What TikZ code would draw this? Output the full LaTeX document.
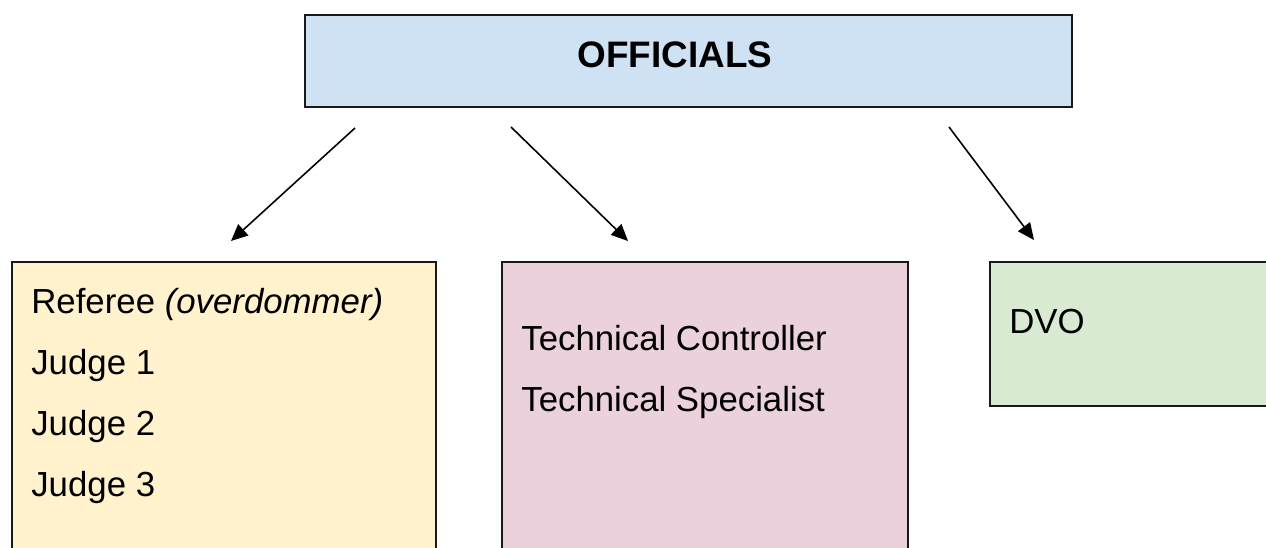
\documentclass[tikz,border=0pt]{standalone}
\usepackage{fontspec}
\setmainfont{Liberation Sans}
\usetikzlibrary{arrows.meta}

\definecolor{offblue}{HTML}{CFE2F3}
\definecolor{judgeyellow}{HTML}{FFF2CC}
\definecolor{techpink}{HTML}{EAD1DC}
\definecolor{dvogreen}{HTML}{D9EAD3}

\begin{document}
\begin{tikzpicture}[x=0.02cm, y=-0.02cm,
    box/.style = {draw=black!90, line width=1pt, inner sep=0, anchor=north west},
    item/.style = {anchor=base west, inner sep=0, font=\fontsize{19.8}{23}\selectfont},
    arr/.style = {-{Triangle[length=9.5pt,width=8.5pt]}, line width=0.9pt}]
    \useasboundingbox (0,0) rectangle (1266,547);
    \clip (0,0) rectangle (1266,547);

    % boxes
    \node[box, fill=offblue, minimum width=15.34cm, minimum height=1.84cm] (officials) at (304,14) {};
    \node[box, fill=judgeyellow, minimum width=8.48cm, minimum height=6.8cm] (judges) at (11,261) {};
    \node[box, fill=techpink, minimum width=8.12cm, minimum height=6.8cm] (tech) at (501,261) {};
    \node[box, fill=dvogreen, minimum width=6.5cm, minimum height=2.88cm] (dvo) at (989,261) {};

    % texts
    \node[anchor=base, inner sep=0, font=\bfseries\fontsize{21}{25}\selectfont] (title) at (675,68) {OFFICIALS};
    \node[item] (referee) at (31,313) {Referee \textit{(overdommer)}};
    \foreach \i in {1,2,3}{
      \node[item] (judge\i) at (31,313+\i*61) {Judge \i};
    }
    \node[item] (controller) at (521,350) {Technical Controller};
    \node[item] (specialist) at (521,411) {Technical Specialist};
    \node[item] (dvotext) at (1009,333) {DVO};

    % arrows
    \coordinate (ajs) at (355,128);
    \coordinate (aje) at (231,241);
    \coordinate (ats) at (511,127);
    \coordinate (ate) at (628,241);
    \coordinate (ads) at (949,127);
    \coordinate (ade) at (1034,240);
    \draw[arr] (ajs) -- (aje);
    \draw[arr] (ats) -- (ate);
    \draw[arr] (ads) -- (ade);
\end{tikzpicture}
\end{document}
